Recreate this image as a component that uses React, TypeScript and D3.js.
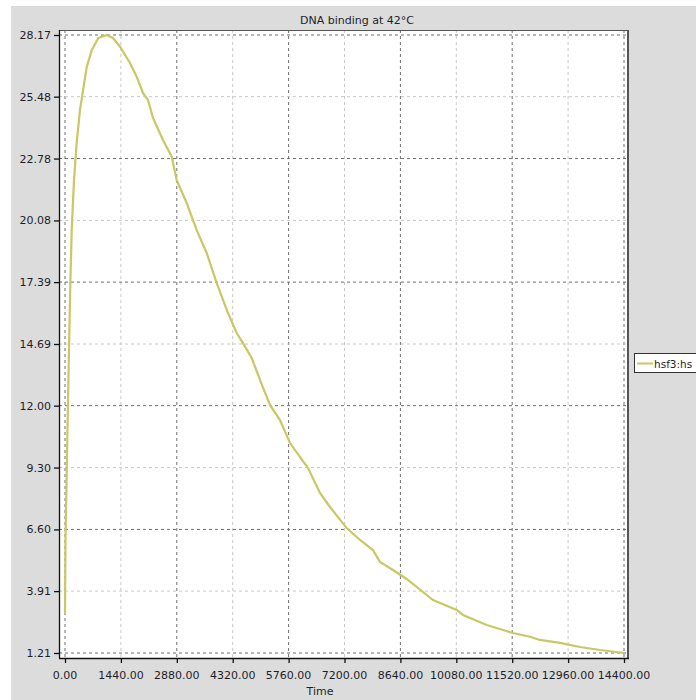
import React from "react";
import { scaleLinear, line } from "d3";

// time points and DNA-binding values
const times = [
  0, 13, 52, 90, 129, 173, 232, 301, 386, 559, 688, 858, 1074, 1236, 1417,
  1674, 1847, 2009, 2138, 2267, 2524, 2749, 2877, 3135, 3392, 3650, 3908,
  4199, 4423, 4585, 4809, 5075, 5281, 5538, 5796, 6260, 6569, 6826, 7257,
  7599, 7934, 8114, 8449, 8802, 9480, 10090, 10253, 10863, 11541, 11979,
  12236, 12751, 13267, 13782, 14400,
];
const binding = [
  2.95, 6.14, 9.85, 13.29, 16.74, 19.66, 21.84, 23.46, 24.9, 26.77, 27.51,
  28.04, 28.17, 28.04, 27.66, 26.95, 26.35, 25.64, 25.33, 24.55, 23.59, 22.86,
  21.84, 20.84, 19.66, 18.66, 17.35, 16.04, 15.17, 14.73, 14.08, 12.9, 12.03,
  11.37, 10.37, 9.28, 8.19, 7.58, 6.66, 6.14, 5.7, 5.18, 4.83, 4.44, 3.52,
  3.09, 2.87, 2.43, 2.08, 1.92, 1.78, 1.65, 1.47, 1.34, 1.21,
];

const xTicks = [0, 1440, 2880, 4320, 5760, 7200, 8640, 10080, 11520, 12960, 14400];
const yTickLabels = ["1.21", "3.91", "6.60", "9.30", "12.00", "14.69", "17.39", "20.08", "22.78", "25.48", "28.17"];

const seriesName = "hsf3:hs";
const title = "DNA binding at 42\u00B0C";
const xTitle = "Time";

const W = 696;
const H = 700;
const box = { left: 59, top: 30, right: 628, bottom: 658 };
const lineColor = "#c8c864";
const font = "'DejaVu Sans', Verdana, sans-serif";

export default function App() {
  const x = scaleLinear().domain([0, 14400]).range([65, 624]);
  const y = scaleLinear().domain([1.21, 28.17]).range([653, 35]);

  const pts = times.map((t, i) => [t, binding[i]] as [number, number]);
  const path = line<[number, number]>()
    .x((d) => x(d[0]))
    .y((d) => y(d[1]))(pts);

  return (
    <svg
      width={W}
      height={H}
      style={{ position: "absolute", left: 0, top: 0, display: "block" }}
      fontFamily={font}
    >
      <rect x={0} y={0} width={W} height={H} fill="#fff" />
      <rect x={11} y={6} width={W - 11} height={H - 6} fill="#dcdcdc" />

      {/* plot area */}
      <rect
        x={box.left}
        y={box.top}
        width={box.right - box.left}
        height={box.bottom - box.top}
        fill="#fff"
      />

      {/* grid */}
      {xTicks.map((t, i) => (
        <line
          key={"gx" + i}
          x1={x(t)}
          x2={x(t)}
          y1={box.top}
          y2={box.bottom}
          stroke={i % 2 === 0 ? "#6e6e6e" : "#c8c8c8"}
          strokeDasharray="3,3"
        />
      ))}
      {yTickLabels.map((l, i) => (
        <line
          key={"gy" + i}
          x1={box.left}
          x2={box.right}
          y1={y(+l)}
          y2={y(+l)}
          stroke={i % 2 === 0 ? "#6e6e6e" : "#c8c8c8"}
          strokeDasharray="3,3"
        />
      ))}

      {/* series */}
      <path d={path || ""} fill="none" stroke={lineColor} strokeWidth={2.2} />

      {/* frame */}
      <line x1={box.left} x2={box.right + 1} y1={box.top + 0.5} y2={box.top + 0.5} stroke="#555" />
      <line x1={box.right} x2={box.right} y1={box.top} y2={box.bottom + 1} stroke="#555" strokeWidth={2} />
      <line x1={box.left + 0.5} x2={box.left + 0.5} y1={box.top} y2={box.bottom} stroke="#111" strokeWidth={1.3} />
      <line x1={box.left} x2={box.right + 1} y1={box.bottom + 0.5} y2={box.bottom + 0.5} stroke="#111" strokeWidth={1.3} />

      {/* y axis */}
      {yTickLabels.map((l, i) => (
        <g key={"ty" + i} transform={`translate(0,${y(+l)})`}>
          <line x1={54} x2={box.left} y1={0.5} y2={0.5} stroke="#111" strokeWidth={1.3} />
          <text x={51} y={4} textAnchor="end" fontSize={11} fill="#1e1e2a">
            {l}
          </text>
        </g>
      ))}

      {/* x axis */}
      {xTicks.map((t, i) => (
        <g key={"tx" + i} transform={`translate(${x(t)},0)`}>
          <line x1={0.5} x2={0.5} y1={box.bottom} y2={box.bottom + 5} stroke="#111" strokeWidth={1.3} />
          <text x={0} y={679} textAnchor="middle" fontSize={11} fill="#1e1e2a">
            {t.toFixed(2)}
          </text>
        </g>
      ))}

      <text x={320} y={695} textAnchor="middle" fontSize={11} fill="#1e1e2a">
        {xTitle}
      </text>
      <text x={357} y={24} textAnchor="middle" fontSize={11} fill="#1e1e2a">
        {title}
      </text>

      {/* legend */}
      <rect x={634.5} y={353.5} width={120} height={19} fill="#fff" stroke="#333" />
      <line x1={637} x2={653} y1={363.5} y2={363.5} stroke={lineColor} strokeWidth={2} />
      <text x={654} y={368} fontSize={10.5} fill="#1e1e2a">
        {seriesName}
      </text>
    </svg>
  );
}
